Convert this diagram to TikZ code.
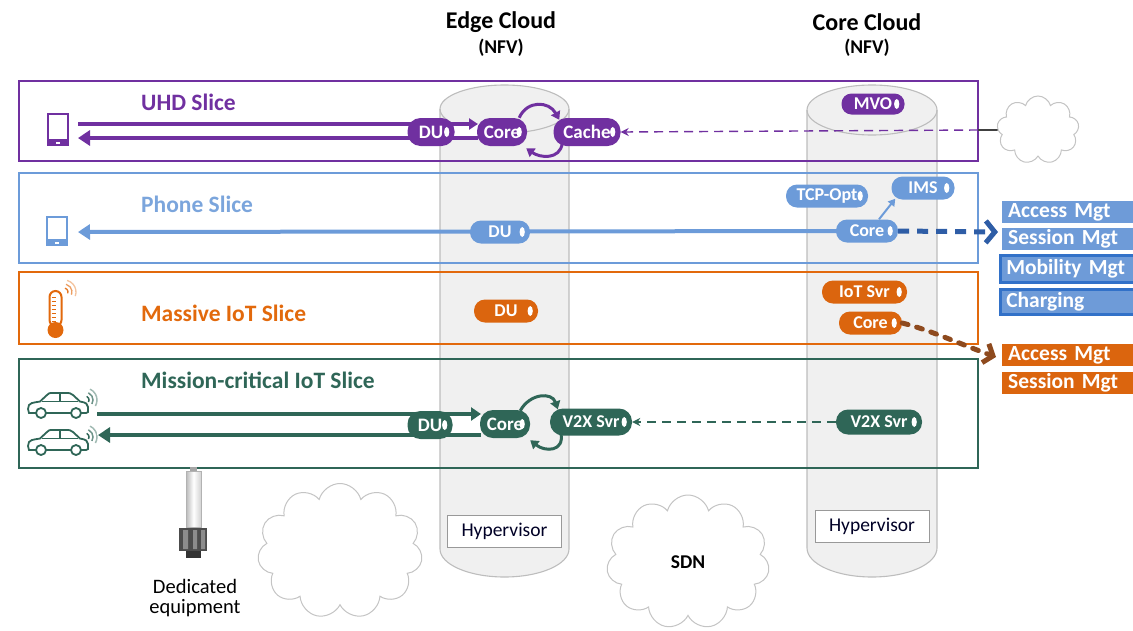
\documentclass[tikz,border=0pt]{standalone}
\usepackage{fontspec}
\setmainfont{Carlito}
\usetikzlibrary{arrows.meta,shapes.symbols,calc}

\definecolor{uhd}{HTML}{7030A0}
\definecolor{phone}{HTML}{6C9BD9}
\definecolor{phonetitle}{HTML}{7BA5DC}
\definecolor{phonedark}{HTML}{2E5DA6}
\definecolor{miot}{HTML}{E2690C}
\definecolor{miotpill}{HTML}{DB650E}
\definecolor{miotdark}{HTML}{8E4A1E}
\definecolor{mcio}{HTML}{2F6657}
\definecolor{cyl}{HTML}{F0F0F0}
\definecolor{cylline}{HTML}{BDBDBD}
\definecolor{cloudline}{HTML}{C4C4C4}
\definecolor{mgt}{HTML}{6E9BD8}
\definecolor{mgtdark}{HTML}{3271C8}

% label of a VNF pill, leaving room for the status dot
\newcommand\vnf[1]{#1\hspace{7pt}}
\newcommand\pilldot[1]{\fill[white] ($(#1.east)+(-8,0)$) ellipse [x radius=2.6pt, y radius=5pt];}

\begin{document}
\begin{tikzpicture}[x=1pt,y=-1pt,
  pill/.style={fill=#1, text=white, font=\bfseries\fontsize{18}{18}\selectfont,
    rounded corners=11pt, minimum height=23pt, inner xsep=4pt, inner ysep=0pt},
  bigpill/.style={pill=#1, font=\bfseries\fontsize{19}{19}\selectfont,
    rounded corners=13pt, minimum height=28pt},
  slicebox/.style={draw=#1, line width=1.3pt},
  slicetitle/.style={text=#1, font=\bfseries\fontsize{23.5}{23.5}\selectfont, anchor=west, inner sep=0pt},
  cloudtitle/.style={font=\bfseries\fontsize{24}{24}\selectfont, inner sep=0pt},
  nfv/.style={font=\bfseries\fontsize{19.5}{19.5}\selectfont, inner sep=0pt},
  hyper/.style={draw=gray!80, fill=white, line width=0.9pt, font=\fontsize{19.5}{19.5}\selectfont,
    text=black!85!blue, minimum width=114pt, minimum height=32pt, inner sep=0pt},
  netcloud/.style={cloud, cloud puffs=11, cloud ignores aspect, draw=cloudline, line width=1pt, fill=white, inner sep=0pt},
  mgtbox/.style={fill=#1, text=white, font=\bfseries\fontsize{21.5}{21.5}\selectfont,
    anchor=north west, text width=150pt, align=left, inner xsep=6pt, inner ysep=0pt, minimum height=22pt},
  flow/.style={line width=4pt},
  loop/.style={line width=3pt, -{Triangle[length=8pt,width=10pt]}},
  car/.pic={
    \draw[line width=1.8pt, fill=white]
      (1,21) -- (0,17) -- (1,13) .. controls (3,11) .. (12,9.5) -- (19,3)
      .. controls (21,1) .. (25,1) -- (38,1) .. controls (42,1) .. (45,3) -- (52,9.5)
      .. controls (58,10.5) and (60,12) .. (60,15) -- (60,20) -- (58,21) -- cycle;
    \draw[line width=1.5pt] (14,9.5) -- (50,9.5) (32,1) -- (32,9.5);
    \draw[line width=1.8pt, fill=white] (13,21) circle[radius=5pt] (48,21) circle[radius=5pt];
    \foreach \r/\o in {4/90,8/60,12/35}
      {\draw[line width=1.5pt, opacity=\o/100+0.1] (57,8) ++(-30:\r pt) arc[start angle=-30, end angle=65, radius=\r pt];}
  }
]
\useasboundingbox (0,0) rectangle (1133,630);

% ---------- NFV cylinders ----------
\fill[cyl] (440,109) -- (440,549) arc[start angle=180, end angle=360, x radius=64.5pt, y radius=28pt]
  -- (569,109) arc[start angle=0, end angle=180, x radius=64.5pt, y radius=24pt] -- cycle;
\draw[cylline, line width=1.1pt] (440,109) -- (440,549) arc[start angle=180, end angle=360, x radius=64.5pt, y radius=28pt] -- (569,109);
\draw[cylline, line width=1.1pt] (504.5,109) ellipse [x radius=64.5pt, y radius=24pt];

\fill[cyl] (807,110) -- (807,548) arc[start angle=180, end angle=360, x radius=65pt, y radius=29pt]
  -- (937,110) arc[start angle=0, end angle=180, x radius=65pt, y radius=25pt] -- cycle;
\draw[cylline, line width=1.1pt] (807,110) -- (807,548) arc[start angle=180, end angle=360, x radius=65pt, y radius=29pt] -- (937,110);
\draw[cylline, line width=1.1pt] (872,110) ellipse [x radius=65pt, y radius=25pt];

\node[cloudtitle] (edgetitle) at (501,22) {Edge Cloud};
\node[nfv] (edgenfv) at (501,48) {(NFV)};
\node[cloudtitle] (coretitle) at (867,22) {Core Cloud};
\node[nfv] (corenfv) at (867,48) {(NFV)};

\node[hyper] (edgehyp) at (504.5,531) {Hypervisor};
\node[hyper] (corehyp) at (872,526) {Hypervisor};

% ---------- clouds ----------
\node[netcloud, minimum width=165pt, minimum height=135pt] (lancloud) at (340,551) {};
\node[netcloud, minimum width=163pt, minimum height=134pt, font=\bfseries\fontsize{19.5}{19.5}\selectfont] (sdn) at (688,562) {SDN};
\node[netcloud, cloud puffs=9, minimum width=82pt, minimum height=68pt] (internet) at (1038,130) {};

% ---------- slices ----------
\draw[slicebox=uhd]  (19,81)  rectangle (978,161);
\draw[slicebox=phone] (19,173) rectangle (978,263);
\draw[slicebox=miot] (19,272) rectangle (978,344);
\draw[slicebox=mcio] (19,359) rectangle (978,468);

\node[slicetitle=uhd]  (uhdtitle)   at (141,102) {UHD Slice};
\node[slicetitle=phonetitle] (phonetitle) at (141,204) {Phone Slice};
\node[slicetitle=miot] (miottitle)  at (141,313) {Massive IoT Slice};
\node[slicetitle=mcio] (mciotitle)  at (141,380) {Mission-critical IoT Slice};

% ---------- user devices ----------
% smartphone (UHD)
\draw[uhd, line width=2pt] (48,114) rectangle (68,145);
\fill[uhd] (47,139) rectangle (69,146);
\fill[white] (56,141.5) rectangle (60,143.5);
\coordinate (uhdUp) at (78,124);
\coordinate (uhdDown) at (78,138);
% smartphone (phone)
\draw[phone, line width=2pt] (47,217) rectangle (67,245);
\fill[phone] (46,239) rectangle (68,246);
\fill[white] (55,241.5) rectangle (59,243.5);
\coordinate (phUE) at (78,232);
% thermometer (IoT sensor)
\draw[miot, line width=2pt, fill=white, rounded corners=6pt] (49.5,291) rectangle (61.5,326);
\fill[miot] (55.5,330) circle[radius=8pt];
\foreach \t in {297,301,305,309,313,317,321}
  {\draw[miot, line width=1pt] (51.5,\t) -- (56,\t);}
\foreach \r/\o in {4/90,8/65,12/40}
  {\draw[miot, line width=1.3pt, opacity=\o/100] (64,292) ++(-20:\r pt) arc[start angle=-20, end angle=75, radius=\r pt];}
% vehicles
\pic[mcio] at (28,392) {car};
\pic[mcio] at (28,429) {car};
\coordinate (mcUp) at (97,414);
\coordinate (mcDown) at (98,435);

% ---------- VNF pills (positions) ----------
\path
  (431,132) coordinate (uhdDUc)  (502,132) coordinate (uhdCorec)
  (500,232) coordinate (phDUc)   (867,231) coordinate (phCorec)
  (430,425) coordinate (mcDUc)   (505,424) coordinate (mcCorec);

% ---------- user plane flows ----------
\fill[white] (uhdUp) rectangle (478,138);
\draw[uhd, flow, -{Triangle[length=9pt,width=11pt]}] (uhdUp) -- (478,124);
\draw[uhd, flow, -{Triangle[length=12pt,width=15pt]}] (478,138) -- (uhdDown);

\fill[white] (mcUp) rectangle (481,435);
\draw[mcio, flow, -{Triangle[length=10pt,width=13pt]}] (mcUp) -- (481,414);
\draw[mcio, flow, -{Triangle[length=12pt,width=15pt]}] (481,435) -- (mcDown);

\draw[phone, flow, -{Triangle[length=12pt,width=15pt]}] (phCorec) -- (phUE);

% ---------- VNF pills ----------
\node[bigpill=uhd, minimum width=47pt] (uhdDU)    at (uhdDUc) {\vnf{DU}};
\node[bigpill=uhd, minimum width=50pt] (uhdCore)  at (uhdCorec) {\vnf{Core}};
\node[bigpill=uhd, minimum width=67pt] (uhdCache) at (587,132) {\vnf{Cache}};
\node[pill=uhd, minimum width=63pt, minimum height=21pt, rounded corners=10pt] (uhdMVO) at (873,104) {\vnf{MVO}};

\node[pill=phone, minimum width=60pt] (phDU)   at (phDUc) {\vnf{DU}};
\node[pill=phone, minimum width=62pt] (phCore) at (phCorec) {\vnf{Core}};
\node[pill=phone, minimum width=82pt] (phTCP)  at (827,196) {\vnf{TCP-Opt}};
\node[pill=phone, minimum width=63pt] (phIMS)  at (923,188) {\vnf{IMS}};

\node[pill=miotpill, minimum width=64pt] (ioDU)   at (506,311) {\vnf{DU}};
\node[pill=miotpill, minimum width=85pt] (ioSvr)  at (864.5,292) {\vnf{IoT Svr}};
\node[pill=miotpill, minimum width=63pt] (ioCore) at (870.5,323) {\vnf{Core}};

\node[bigpill=mcio, minimum width=45pt] (mcDU)   at (mcDUc) {\vnf{DU}};
\node[bigpill=mcio, minimum width=50pt] (mcCore) at (mcCorec) {\vnf{Core}};
\node[pill=mcio, minimum width=82pt, minimum height=27pt, rounded corners=13pt] (mcV2Xe) at (591,422) {\vnf{V2X Svr}};
\node[pill=mcio, minimum width=86pt, minimum height=25pt, rounded corners=12pt] (mcV2Xc) at (879,422) {\vnf{V2X Svr}};

\foreach \n in {uhdDU,uhdCore,uhdCache,uhdMVO,phDU,phCore,phTCP,phIMS,ioDU,ioSvr,ioCore,mcDU,mcCore,mcV2Xe,mcV2Xc}
  {\pilldot{\n}}

% ---------- service chaining ----------
\draw[uhd, loop] ($(uhdCore.north east)+(-8,0)$) .. controls (527,100) and (549,101) .. ($(uhdCache.north west)+(6,2)$);
\draw[uhd, loop] ($(uhdCache.south west)+(9,-3)$) .. controls (560,160) and (540,158) .. ($(uhdCore.south east)+(-1,2)$);

\draw[mcio, loop] ($(mcCore.north east)+(-10,1)$) .. controls (530,393) and (552,392) .. ($(mcV2Xe.north west)+(8,1)$);
\draw[mcio, loop] ($(mcV2Xe.south west)+(11,-3)$) .. controls (565,452) and (545,452) .. ($(mcCore.south east)+(0,2)$);

\draw[phone, line width=2pt, -{Triangle[length=7pt,width=8pt]}] ($(phCore.north)+(12,0)$) -- ($(phIMS.south west)+(4,-1)$);

% content / control plane links
\draw[uhd, line width=1.4pt, dash pattern=on 9pt off 6pt, -{Stealth[length=8pt,width=8pt]}] (978,130) -- (uhdCache.east);
\draw[black!75, line width=1.6pt] (978,130) -- (internet.west);

\draw[mcio, line width=1.4pt, dash pattern=on 9pt off 6pt, -{Stealth[length=8pt,width=8pt]}] (mcV2Xc.west) -- (mcV2Xe.east);

\coordinate (phCP) at (998,232);
\draw[phonedark, line width=5pt, dash pattern=on 11pt off 8pt, -{Straight Barb[length=9pt,width=22pt,line width=5pt]}] (phCore.east) -- (phCP);

\coordinate (ioCP) at (996,357);
\draw[miotdark, line width=5pt, dash pattern=on 6pt off 9pt, line cap=round, -{Straight Barb[length=8pt,width=20pt,line width=5pt]}]
  (ioCore.east) .. controls (930,330) and (960,344) .. (ioCP);

% ---------- shared control functions ----------
\node[mgtbox=mgt] (bAccess)  at (1002,201) {Access Mgt};
\node[mgtbox=mgt] (bSession) at (1002,228) {Session Mgt};
\node[mgtbox=mgt, draw=mgtdark, line width=2.5pt, minimum height=27pt] (bMobility) at (999,254) {Mobility Mgt};
\node[mgtbox=mgt, draw=mgtdark, line width=2.5pt, minimum height=25pt] (bCharging) at (999,288) {Charging};

\node[mgtbox=miotpill] (oAccess)  at (1002,344) {Access Mgt};
\node[mgtbox=miotpill] (oSession) at (1002,372) {Session Mgt};

% ---------- dedicated equipment ----------
\fill[gray!70] (190,467) rectangle (197,472);
\shade[left color=gray!55, right color=gray!35, middle color=white, shading angle=90] (186,471) rectangle (201,527);
\draw[gray!60, line width=0.6pt] (186,471) rectangle (201,527);
\fill[black!70] (179,528) rectangle (207,551);
\fill[black!45] (183,530) rectangle (188,549) (193,530) rectangle (197,549) (201,530) rectangle (205,549);
\fill[black!80] (186,551) rectangle (201,558);
\node[font=\fontsize{20.5}{20.5}\selectfont, align=center, inner sep=0pt] (dedicated) at (195,598) {Dedicated\\[-1pt]equipment};

\end{tikzpicture}
\end{document}
